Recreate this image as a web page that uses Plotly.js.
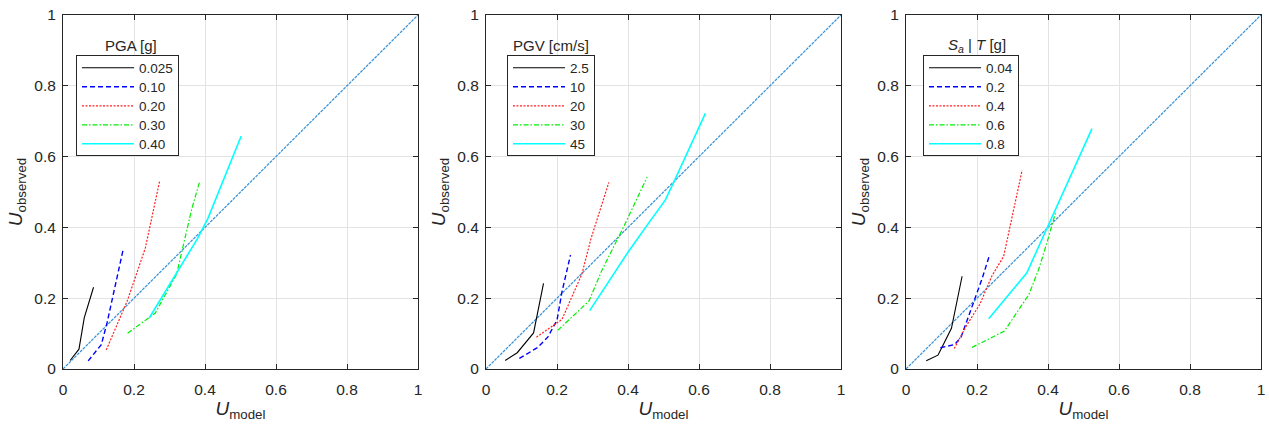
<!DOCTYPE html>
<html>
<head>
<meta charset="utf-8">
<script src="https://cdn.plot.ly/plotly-3.0.1.min.js"></script>
<style>html,body{margin:0;padding:0;background:#fff;} #chart{width:1269px;height:425px;}</style>
</head>
<body>
<div id="chart"></div>
<script>
// ---- data ----
const diag = [0, 1];

const pgaLabels = ["0.025", "0.10", "0.20", "0.30", "0.40"];
const pga_025_x = [0.020, 0.045, 0.060, 0.086];
const pga_025_y = [0.024, 0.056, 0.145, 0.231];
const pga_10_x = [0.071, 0.095, 0.108, 0.124, 0.145, 0.170];
const pga_10_y = [0.023, 0.052, 0.069, 0.130, 0.230, 0.340];
const pga_20_x = [0.122, 0.182, 0.232, 0.252, 0.272];
const pga_20_y = [0.054, 0.195, 0.342, 0.440, 0.530];
const pga_30_x = [0.182, 0.242, 0.260, 0.320, 0.342, 0.362, 0.385];
const pga_30_y = [0.101, 0.144, 0.158, 0.268, 0.360, 0.449, 0.530];
const pga_40_x = [0.243, 0.320, 0.378, 0.408, 0.502];
const pga_40_y = [0.144, 0.271, 0.367, 0.425, 0.658];

const pgvLabels = ["2.5", "10", "20", "30", "45"];
const pgv_25_x = [0.054, 0.088, 0.134, 0.162];
const pgv_25_y = [0.024, 0.046, 0.102, 0.242];
const pgv_10_x = [0.094, 0.146, 0.174, 0.200, 0.214, 0.238];
const pgv_10_y = [0.030, 0.061, 0.090, 0.138, 0.218, 0.322];
const pgv_20_x = [0.142, 0.214, 0.270, 0.296, 0.346];
const pgv_20_y = [0.090, 0.140, 0.268, 0.369, 0.527];
const pgv_30_x = [0.202, 0.290, 0.327, 0.388, 0.454];
const pgv_30_y = [0.109, 0.192, 0.280, 0.402, 0.542];
const pgv_45_x = [0.292, 0.400, 0.458, 0.505, 0.530, 0.618];
const pgv_45_y = [0.165, 0.330, 0.412, 0.477, 0.530, 0.722];

const saLabels = ["0.04", "0.2", "0.4", "0.6", "0.8"];
const sa_04_x = [0.057, 0.090, 0.101, 0.128, 0.158];
const sa_04_y = [0.023, 0.039, 0.061, 0.115, 0.262];
const sa_2_x = [0.097, 0.137, 0.155, 0.191, 0.214, 0.236];
const sa_2_y = [0.060, 0.069, 0.090, 0.190, 0.254, 0.324];
const sa_4_x = [0.136, 0.170, 0.208, 0.242, 0.275, 0.294, 0.327];
const sa_4_y = [0.058, 0.122, 0.183, 0.263, 0.318, 0.404, 0.561];
const sa_6_x = [0.186, 0.277, 0.346, 0.374, 0.397, 0.422];
const sa_6_y = [0.061, 0.107, 0.210, 0.282, 0.357, 0.444];
const sa_8_x = [0.233, 0.340, 0.524];
const sa_8_y = [0.142, 0.271, 0.679];

const tickVals = [0, 0.2, 0.4, 0.6, 0.8, 1];
const tickText = ["0", "0.2", "0.4", "0.6", "0.8", "1"];

// ---- styles ----
const styles = [
  {color: "#000000", dash: "solid", width: 1.1},
  {color: "#0000FF", dash: "5px,3px", width: 1.4},
  {color: "#FF2020", dash: "2px,1.5px", width: 1.2},
  {color: "#00F000", dash: "5px,2px,1.5px,2px", width: 1.2},
  {color: "#00FFFF", dash: "solid", width: 1.6}
];

const panels = [
  {xs: [pga_025_x, pga_10_x, pga_20_x, pga_30_x, pga_40_x], ys: [pga_025_y, pga_10_y, pga_20_y, pga_30_y, pga_40_y], labels: pgaLabels},
  {xs: [pgv_25_x, pgv_10_x, pgv_20_x, pgv_30_x, pgv_45_x], ys: [pgv_25_y, pgv_10_y, pgv_20_y, pgv_30_y, pgv_45_y], labels: pgvLabels},
  {xs: [sa_04_x, sa_2_x, sa_4_x, sa_6_x, sa_8_x], ys: [sa_04_y, sa_2_y, sa_4_y, sa_6_y, sa_8_y], labels: saLabels}
];

const W = 1269, H = 425, T = 15, B = 56;
const PH = H - T - B;
const domains = [[63, 418], [486, 841], [906, 1261]];
const legendLeft = [76, 507, 923];
const legendTop = 55;
const legendTitles = ["PGA [g]", "PGV [cm/s]", "<i>S</i><sub><i>a</i></sub> | <i>T</i> [g]"];
const legendTitleX = [131, 551, 977];
const legendTitleY = 45;

const traces = [];
panels.forEach((p, i) => {
  const xa = i === 0 ? "x" : "x" + (i + 1);
  const ya = i === 0 ? "y" : "y" + (i + 1);
  const lg = i === 0 ? "legend" : "legend" + (i + 1);
  traces.push({
    x: diag, y: diag, xaxis: xa, yaxis: ya, mode: "lines", showlegend: false,
    line: {color: "#3A93D6", dash: "3px,1px", width: 1.25}, hoverinfo: "skip"
  });
  p.xs.forEach((xv, j) => {
    traces.push({
      x: xv, y: p.ys[j], xaxis: xa, yaxis: ya, mode: "lines", name: p.labels[j],
      legend: lg, line: styles[j]
    });
  });
});

const font = {family: "Liberation Sans, Arial, sans-serif", size: 14, color: "#262626"};
const layout = {
  width: W, height: H,
  margin: {l: 0, r: 0, t: T, b: B},
  paper_bgcolor: "#ffffff", plot_bgcolor: "#ffffff",
  font: font,
  annotations: []
};

domains.forEach((d, i) => {
  const sfx = i === 0 ? "" : String(i + 1);
  const common = {
    range: [0, 1],
    tickmode: "array", tickvals: tickVals, ticktext: tickText,
    ticks: "inside", ticklen: 5, tickcolor: "#262626", tickwidth: 1,
    showline: true, linecolor: "#262626", linewidth: 1, mirror: "ticks",
    showgrid: true, gridcolor: "#e3e3e3", gridwidth: 1, zeroline: false,
    tickfont: {family: font.family, size: 15.5, color: "#262626"},
    fixedrange: true
  };
  layout["xaxis" + sfx] = Object.assign({}, common, {
    domain: [d[0] / W, d[1] / W], anchor: "y" + sfx,
    ticklabelstandoff: 6,
    title: {text: "<i>U</i><sub>model</sub>", font: {family: font.family, size: 19, color: "#262626"}, standoff: 4}
  });
  layout["yaxis" + sfx] = Object.assign({}, common, {
    domain: [0, 1], anchor: "x" + sfx,
    ticklabelstandoff: 3,
    title: {text: "<i>U</i><sub>observed</sub>", font: {family: font.family, size: 19, color: "#262626"}, standoff: 6}
  });

  const lgKey = i === 0 ? "legend" : "legend" + (i + 1);
  layout[lgKey] = {
    x: legendLeft[i] / W, y: (H - B - legendTop) / PH,
    xanchor: "left", yanchor: "top", xref: "paper", yref: "paper",
    bgcolor: "#ffffff", bordercolor: "#262626", borderwidth: 1,
    font: {family: font.family, size: 13.5, color: "#262626"},
    itemwidth: 52, tracegroupgap: 0
  };
  layout.annotations.push({
    text: legendTitles[i], xref: "paper", yref: "paper",
    x: legendTitleX[i] / W, y: (H - B - legendTitleY) / PH,
    xanchor: "center", yanchor: "middle", showarrow: false,
    font: {family: font.family, size: 15, color: "#262626"}
  });
});

Plotly.newPlot("chart", traces, layout, {staticPlot: true, displayModeBar: false}).then(gd => {
  // lengthen legend line samples to match the reference legend style
  gd.querySelectorAll(".legendlines path").forEach(p => {
    const dAttr = p.getAttribute("d");
    if (dAttr && /h30/.test(dAttr)) p.setAttribute("d", dAttr.replace("h30", "h50"));
  });
  // tighten legend box: reference has ~19px row spacing and compact padding
  const re = /translate\(\s*([-\d.e]+)[ ,]+([-\d.e]+)\s*\)/;
  gd.querySelectorAll("g.infolayer > g").forEach(lg => {
    const cls = lg.getAttribute("class") || "";
    if (!/^legend/.test(cls)) return;
    const bg = lg.querySelector("rect.bg");
    const items = Array.from(lg.querySelectorAll("g.traces"));
    if (!bg || items.length < 2) return;
    const pos = items.map(it => {
      const m = re.exec(it.getAttribute("transform") || "");
      return m ? [parseFloat(m[1]), parseFloat(m[2])] : null;
    });
    if (pos.some(p => !p)) return;
    const y0 = pos[0][1];
    const rowGap = 19, shift = -3.5;
    items.forEach((it, k) => {
      it.setAttribute("transform", "translate(" + pos[k][0] + "," + (y0 + shift + k * rowGap) + ")");
    });
    const bgY = parseFloat(bg.getAttribute("y") || "0");
    const lastY = y0 + shift + (items.length - 1) * rowGap;
    const newH = lastY - bgY + 11.5;
    if (newH > 20) bg.setAttribute("height", newH);
  });
});
</script>
</body>
</html>
